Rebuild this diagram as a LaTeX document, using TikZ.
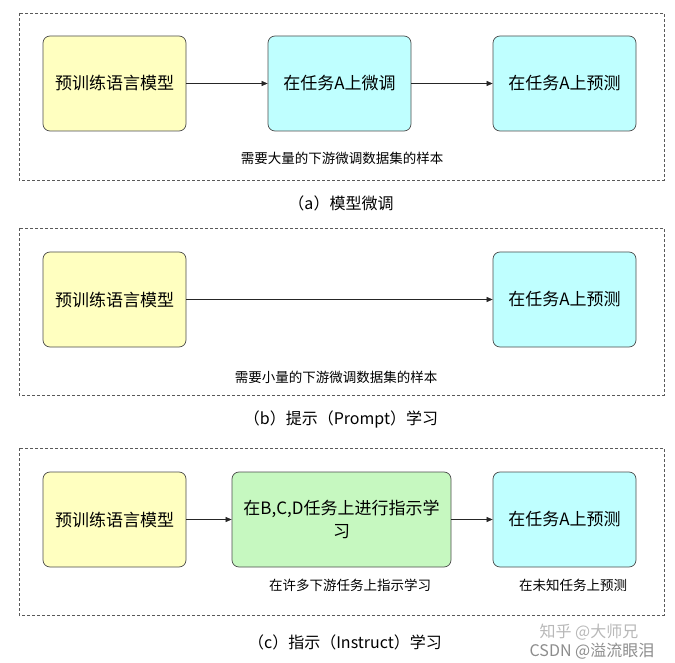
\documentclass[tikz,border=0pt]{standalone}
\usepackage{fontspec}
\setmainfont{Noto Sans CJK SC}
\usetikzlibrary{arrows.meta}
\definecolor{ylwfill}{RGB}{255,255,192}
\definecolor{cynfill}{RGB}{191,255,255}
\definecolor{grnfill}{RGB}{198,248,192}
\begin{document}
\begin{tikzpicture}[x=1pt,y=-1pt,
  panel/.style={draw=black!65,line width=0.8pt,dash pattern=on 3pt off 2pt},
  blk/.style={draw=black!70,line width=0.7pt,rounded corners=7pt,align=center,font=\fontsize{17}{23}\selectfont,minimum height=95pt},
  ylw/.style={blk,fill=ylwfill,minimum width=143pt},
  cyn/.style={blk,fill=cynfill,minimum width=143pt},
  grn/.style={blk,fill=grnfill,minimum width=219pt},
  conn/.style={-{Triangle[length=6pt,width=5pt]},line width=0.6pt,black!85},
  note/.style={font=\fontsize{13.5}{15}\selectfont},
  captxt/.style={font=\fontsize{16}{18}\selectfont},
  wm/.style={font=\fontsize{16}{18}\selectfont,text=black!28}]
\useasboundingbox (0,0) rectangle (675,663);
% panel a
\draw[panel] (19,13) rectangle (664,180);
\node[ylw] (a1) at (114.5,83.5) {预训练语言模型};
\node[cyn] (a2) at (339.5,83.5) {在任务A上微调};
\node[cyn] (a3) at (564.5,83.5) {在任务A上预测};
\draw[conn] (a1) -- (a2);
\draw[conn] (a2) -- (a3);
\node[note] (an) at (342,158) {需要大量的下游微调数据集的样本};
\node[captxt] (ac) at (341,203) {（a）模型微调};
% panel b
\draw[panel] (19,228) rectangle (664,395);
\node[ylw] (b1) at (114.5,299.5) {预训练语言模型};
\node[cyn] (b3) at (564.5,299.5) {在任务A上预测};
\draw[conn] (b1) -- (b3);
\node[note] (bn) at (336,377) {需要小量的下游微调数据集的样本};
\node[captxt] (bc) at (341,419) {（b）提示（Prompt）学习};
% panel c
\draw[panel] (19,448) rectangle (664,615);
\node[ylw] (c1) at (114.5,519.5) {预训练语言模型};
\node[grn] (c2) at (341.5,519.5) {在B,C,D任务上进行指示学\\习};
\node[cyn] (c3) at (564.5,519.5) {在任务A上预测};
\draw[conn] (c1) -- (c2);
\draw[conn] (c2) -- (c3);
\node[note] (cn1) at (350,585) {在许多下游任务上指示学习};
\node[note] (cn2) at (573,585) {在未知任务上预测};
\node[captxt] (cc) at (345,642) {（c）指示（Instruct）学习};
% watermarks
\node[wm] (w1) at (589,632) {知乎 @大师兄};
\node[wm,text=black!45] (w2) at (592,651) {CSDN @溢流眼泪};
\end{tikzpicture}
\end{document}
